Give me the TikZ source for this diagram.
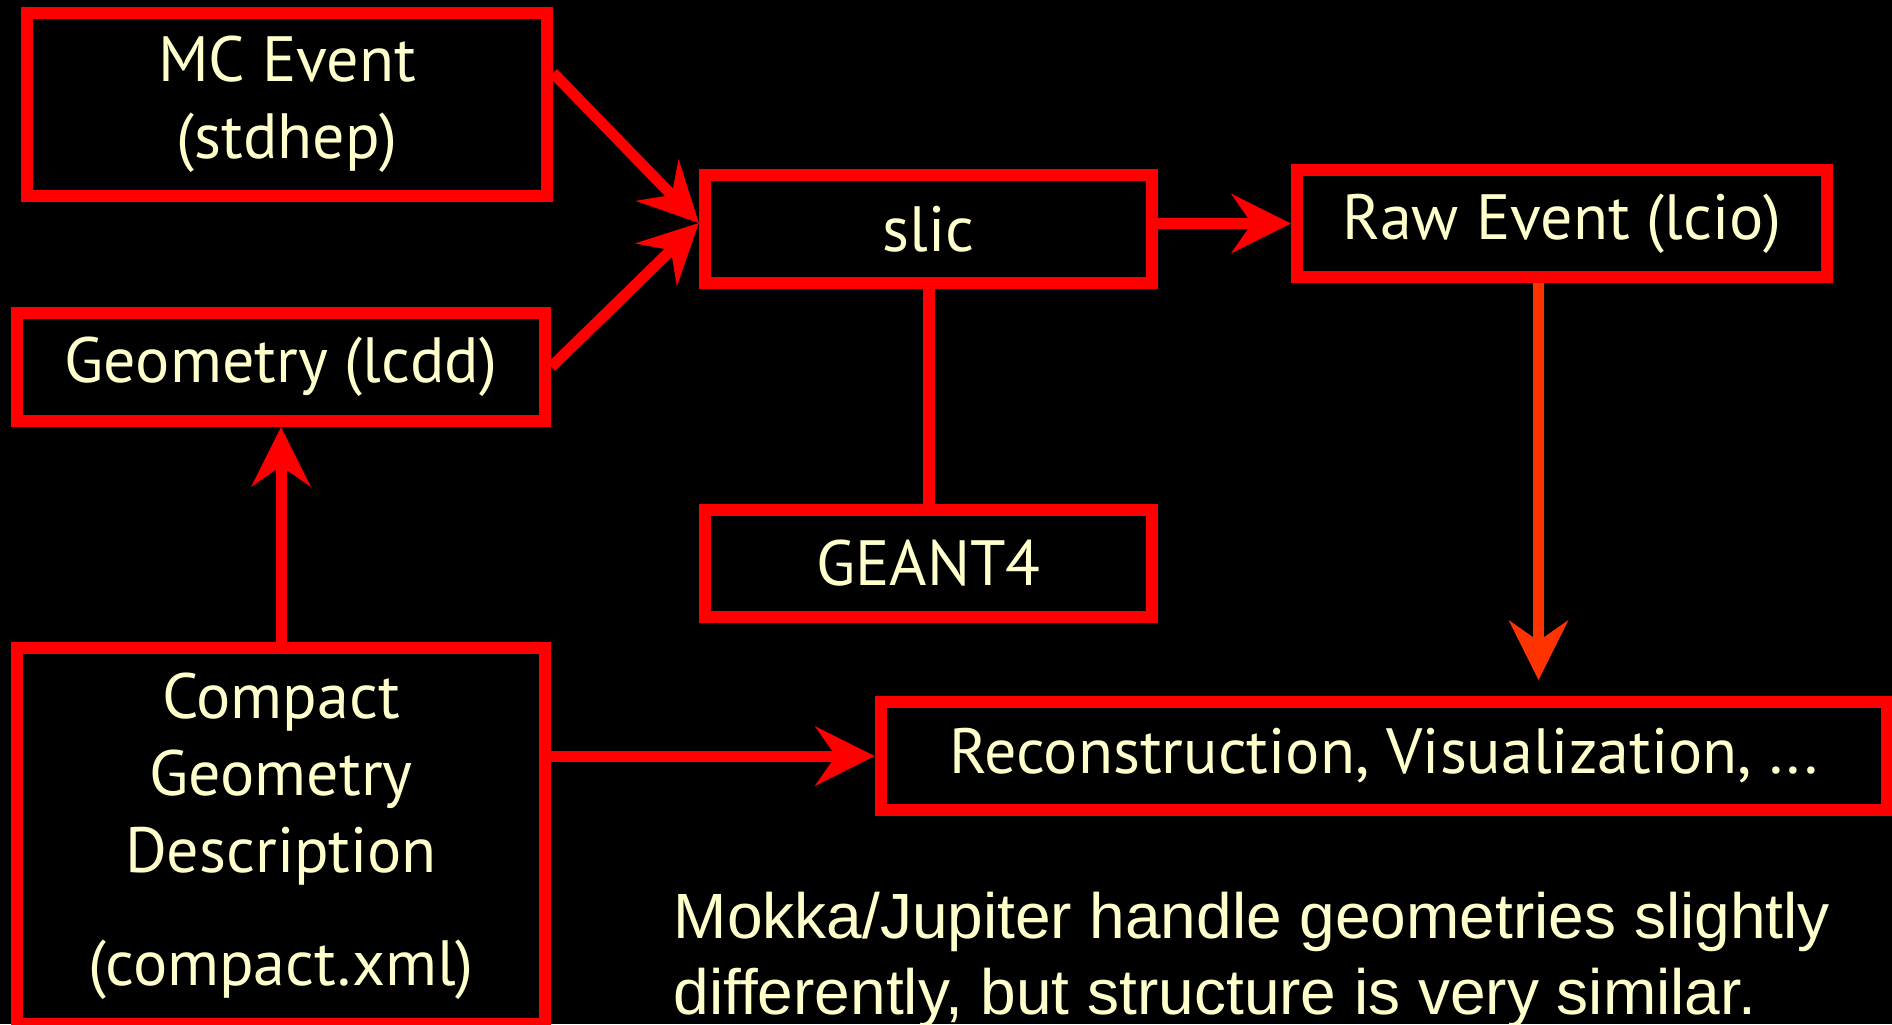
\documentclass[tikz,border=0pt]{standalone}
\usepackage{fontspec}
\usetikzlibrary{arrows.meta}
\newfontfamily\boxfont{PT Sans}
\newfontfamily\notefont{Liberation Sans}
\definecolor{boxred}{HTML}{FF0000}
\definecolor{flowred}{HTML}{FF3300}
\definecolor{cream}{HTML}{FFFFCC}
\begin{document}
\begin{tikzpicture}[x=0.01cm, y=-0.01cm,
  box/.style={draw=boxred, line width=0.12cm, fill=black, text=cream,
    align=center, inner sep=0pt,
    font=\boxfont\fontsize{18.2pt}{22pt}\selectfont},
  arr/.style={draw=boxred, line width=0.11cm,
    -{Stealth[length=0.6cm, width=0.6cm, inset=0.21cm, line width=0pt]}},
  link/.style={draw=boxred, line width=0.12cm},
  note/.style={text=cream, inner sep=0pt, anchor=base west,
    font=\notefont\fontsize{18.2pt}{22pt}\selectfont}]

  % page background
  \fill[black] (0,0) rectangle (1892,1024);
  \useasboundingbox (0,0) rectangle (1892,1024);

  % boxes
  \node[box, minimum width=5.20cm, minimum height=1.83cm] (mc) at (287,104.5)
    {MC Event\\(stdhep)};
  \node[box, minimum width=5.28cm, minimum height=1.08cm] (geo) at (281,367)
    {Geometry (lcdd)};
  \node[box, minimum width=5.28cm, minimum height=3.76cm] (cgd) at (281,836)
    {Compact\\Geometry\\Description\\[10pt](compact.xml)};
  \node[box, minimum width=4.47cm, minimum height=1.08cm] (slic) at (928.5,229)
    {slic};
  \node[box, minimum width=4.47cm, minimum height=1.07cm] (g4) at (928.5,563.5)
    {GEANT4};
  \node[box, minimum width=5.30cm, minimum height=1.07cm] (raw) at (1562,223.5)
    {Raw Event (lcio)};
  \node[box, minimum width=10.06cm, minimum height=1.08cm] (reco) at (1384,756)
    {Reconstruction, Visualization, ...};

  % end point of the downward flow arrow
  \coordinate (recoin) at (1538.5,680);

  % connectors
  \draw[arr] ([yshift=-0.66cm]mc.north east) -- ([yshift=0.06cm]slic.west);
  \draw[arr] (geo.east) -- ([yshift=0.06cm]slic.west);
  \draw[arr] ([yshift=0.055cm]slic.east) -- (raw.west);
  \draw[link] (slic.south) -- (g4.north);
  \draw[arr, draw=flowred, fill=flowred] (recoin |- raw.south) -- (recoin);
  \draw[arr] (cgd.north) -- (geo.south);
  \draw[arr] (cgd.east |- reco.west) -- (reco.west);

  % remark
  \node[note] (note1) at (673,938) {Mokka/Jupiter handle geometries slightly};
  \node[note] (note2) at (673,1014) {differently, but structure is very similar.};
\end{tikzpicture}
\end{document}
